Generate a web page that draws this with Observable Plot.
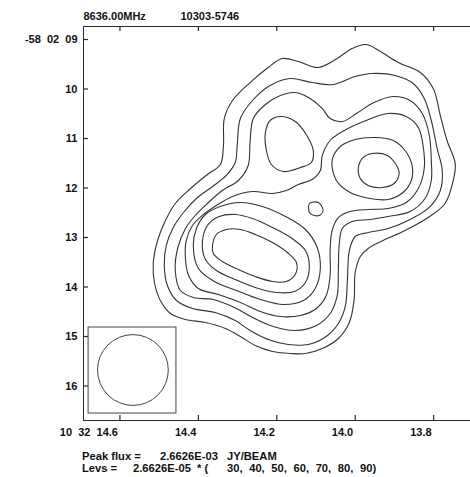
<!DOCTYPE html>
<html>
<head>
<meta charset="utf-8">
<script src="https://cdn.jsdelivr.net/npm/d3@7"></script>
<script src="https://cdn.jsdelivr.net/npm/@observablehq/plot@0.6"></script>
<style>
  body { margin: 0; background: #fff; }
  svg { display: block; }
  #caption {
    position: relative;
    width: 470px;
    height: 30px;
    font-family: 'Liberation Sans', Arial, sans-serif;
    font-size: 11.2px;
    font-weight: bold;
    color: #111;
  }
  #caption span { position: absolute; line-height: 12px; white-space: pre; }
  #caption span.levels { word-spacing: 3.5px; }
</style>
</head>
<body>
<div id="chart"></div>
<div id="caption"></div>
<script>
// Map header and footer text
const frequency = "8636.00MHz";
const sourceName = "10303-5746";
const peakFlux = "2.6626E-03";
const fluxUnit = "JY/BEAM";
const levelUnit = "2.6626E-05";
const levels = [30, 40, 50, 60, 70, 80, 90];

// Axes: right ascension (seconds of 10h32m) and declination (arcsec of -58°02')
const raTicks = [14.6, 14.4, 14.2, 14.0, 13.8];
const raTickLabels = ["10  32  14.6", "14.4", "14.2", "14.0", "13.8"];
const decTicks = [9, 10, 11, 12, 13, 14, 15, 16];
const decTickLabels = ["-58  02  09", "10", "11", "12", "13", "14", "15", "16"];
const raDomain = [14.693, 13.706];
const decDomain = [16.697, 8.737];

// Restoring beam (circular, FWHM in arcsec) and the box drawn round it
const beamCenter = [14.567, 15.677];
const beamDiameter = 1.43;
const beamBox = [14.680, 14.456, 14.818, 16.556]; // ra1, ra2, dec1, dec2

// Contour loops as [ra, dec] vertices, grouped by level (% of peak)
const loop30 = [[14.336,11.141],[14.334,10.596],[14.313,10.232],[14.268,9.869],[14.222,9.566],[14.186,9.384],[14.145,9.445],[14.094,9.566],[14.046,9.384],[14.008,9.182],[13.972,9.101],[13.936,9.242],[13.890,9.465],[13.834,9.667],[13.801,9.990],[13.783,10.535],[13.766,11.040],[13.745,11.505],[13.750,11.848],[13.771,12.313],[13.814,12.596],[13.873,12.859],[13.929,13.061],[13.967,13.222],[13.987,13.384],[14.000,13.707],[14.003,14.273],[14.015,14.717],[14.043,15.040],[14.084,15.242],[14.127,15.343],[14.166,15.343],[14.211,15.303],[14.255,15.182],[14.293,15.000],[14.331,14.838],[14.382,14.717],[14.433,14.657],[14.471,14.535],[14.497,14.273],[14.512,13.909],[14.515,13.505],[14.504,13.061],[14.484,12.657],[14.459,12.313],[14.420,12.010],[14.377,11.727],[14.344,11.525]];

const loop40 = [[14.301,11.141],[14.293,10.596],[14.262,10.232],[14.217,9.929],[14.166,9.788],[14.110,9.869],[14.056,9.909],[14.000,9.748],[13.957,9.687],[13.898,9.727],[13.852,9.889],[13.824,10.192],[13.806,10.636],[13.791,11.202],[13.778,11.646],[13.783,12.051],[13.809,12.374],[13.860,12.636],[13.916,12.818],[13.967,12.899],[14.000,12.980],[14.015,13.263],[14.020,13.869],[14.025,14.374],[14.043,14.737],[14.074,15.000],[14.120,15.162],[14.171,15.162],[14.222,15.061],[14.268,14.879],[14.306,14.677],[14.357,14.515],[14.415,14.434],[14.456,14.273],[14.479,13.970],[14.487,13.566],[14.482,13.162],[14.464,12.798],[14.438,12.495],[14.405,12.212],[14.364,11.970],[14.329,11.747],[14.306,11.485]];

const loop50 = [[14.268,11.040],[14.260,10.596],[14.229,10.313],[14.191,10.131],[14.153,10.071],[14.115,10.192],[14.084,10.394],[14.064,10.596],[14.033,10.657],[13.997,10.495],[13.952,10.273],[13.903,10.152],[13.860,10.232],[13.829,10.495],[13.811,10.939],[13.806,11.444],[13.806,11.848],[13.822,12.212],[13.860,12.475],[13.916,12.576],[13.962,12.636],[14.008,12.677],[14.033,12.818],[14.041,13.162],[14.043,13.667],[14.046,14.172],[14.064,14.535],[14.099,14.778],[14.153,14.879],[14.209,14.798],[14.262,14.616],[14.308,14.414],[14.362,14.253],[14.413,14.212],[14.446,14.071],[14.459,13.667],[14.453,13.222],[14.433,12.818],[14.408,12.556],[14.377,12.313],[14.339,12.051],[14.298,11.848],[14.273,11.545]];

const loop60North = [[14.229,10.879],[14.217,10.636],[14.189,10.556],[14.153,10.657],[14.125,10.919],[14.107,11.242],[14.112,11.485],[14.140,11.586],[14.183,11.667],[14.214,11.525],[14.227,11.222]];

const loop60Main = [[14.433,13.424],[14.431,13.061],[14.415,12.758],[14.387,12.535],[14.354,12.354],[14.313,12.172],[14.262,12.071],[14.211,12.111],[14.176,12.051],[14.145,11.929],[14.110,11.828],[14.089,11.646],[14.084,11.343],[14.064,11.040],[14.023,10.818],[13.972,10.636],[13.916,10.495],[13.870,10.556],[13.839,10.778],[13.826,11.202],[13.824,11.606],[13.839,12.010],[13.870,12.293],[13.916,12.414],[13.967,12.434],[14.013,12.475],[14.043,12.596],[14.059,12.859],[14.064,13.263],[14.064,13.768],[14.074,14.172],[14.099,14.434],[14.140,14.576],[14.191,14.596],[14.242,14.495],[14.293,14.313],[14.349,14.152],[14.400,14.030],[14.425,13.768]];

const loop70Main = [[14.413,13.162],[14.405,12.818],[14.382,12.535],[14.344,12.374],[14.293,12.293],[14.237,12.374],[14.178,12.576],[14.127,12.838],[14.097,13.202],[14.089,13.626],[14.102,14.030],[14.132,14.273],[14.183,14.354],[14.242,14.253],[14.303,14.071],[14.359,13.889],[14.400,13.626]];

const loop70Knot = [[14.117,12.313],[14.094,12.293],[14.082,12.455],[14.092,12.556],[14.115,12.515]];

const loop70East = [[14.059,11.444],[14.038,11.162],[14.000,11.020],[13.949,10.980],[13.903,11.040],[13.873,11.242],[13.855,11.545],[13.857,11.848],[13.878,12.091],[13.916,12.232],[13.962,12.212],[14.013,12.091],[14.048,11.848]];

const loop80Main = [[14.390,13.121],[14.377,12.758],[14.347,12.576],[14.306,12.535],[14.262,12.616],[14.211,12.798],[14.161,13.020],[14.127,13.263],[14.117,13.586],[14.127,13.909],[14.155,14.091],[14.201,14.111],[14.255,14.010],[14.306,13.848],[14.354,13.667],[14.382,13.444]];

const loop80East = [[13.992,11.586],[13.980,11.384],[13.957,11.303],[13.918,11.343],[13.896,11.525],[13.888,11.707],[13.901,11.909],[13.931,11.990],[13.967,11.950],[13.987,11.808]];

const loop90Main = [[14.364,13.162],[14.354,12.939],[14.329,12.838],[14.293,12.838],[14.255,12.939],[14.211,13.101],[14.173,13.303],[14.150,13.505],[14.153,13.747],[14.176,13.889],[14.211,13.889],[14.255,13.788],[14.298,13.646],[14.339,13.485],[14.362,13.323]];

const loops = [
  {level: 30, points: loop30},
  {level: 40, points: loop40},
  {level: 50, points: loop50},
  {level: 60, points: loop60North},
  {level: 60, points: loop60Main},
  {level: 70, points: loop70Main},
  {level: 70, points: loop70Knot},
  {level: 70, points: loop70East},
  {level: 80, points: loop80Main},
  {level: 80, points: loop80East},
  {level: 90, points: loop90Main}
];

const contourRows = loops.flatMap((loop, id) =>
  loop.points.map(([ra, dec]) => ({ra, dec, level: loop.level, loop: id}))
);

// plot geometry (the caption lines sit in the HTML below the SVG)
const width = 470, height = 447;
const margin = {top: 26, right: 0, bottom: 27, left: 83};
const innerWidth = width - margin.left - margin.right;
const innerHeight = height - margin.top - margin.bottom;
const tickLength = 5;

const raLeft = raDomain[0];
const decBottom = decDomain[0];
const decTop = decDomain[1];

const nb = (s) => s.replace(/ /g, "\u00a0");
const ink = "#2a2a2a";
const label = {fill: "#111", lineAnchor: "middle"};

function build(beamRadius) {
  return Plot.plot({
    width,
    height,
    marginTop: margin.top,
    marginRight: margin.right,
    marginBottom: margin.bottom,
    marginLeft: margin.left,
    x: {domain: raDomain, axis: null},
    y: {domain: decDomain, axis: null},
    style: {
      fontFamily: "'Liberation Sans', Arial, sans-serif",
      fontSize: "11px",
      fontWeight: "bold",
      color: "#111",
      background: "#fff"
    },
    marks: [
      // contours
      Plot.line(contourRows, {x: "ra", y: "dec", z: "loop", curve: "catmull-rom-closed", stroke: "#333", strokeWidth: 1.1}),
      // beam and its box
      Plot.rect([beamBox], {x1: (d) => d[0], x2: (d) => d[1], y1: (d) => d[2], y2: (d) => d[3], fill: "none", stroke: "#444", strokeWidth: 1}),
      Plot.dot([beamCenter], {x: (d) => d[0], y: (d) => d[1], r: beamRadius, fill: "none", stroke: "#444", strokeWidth: 1}),
      // frame edges
      Plot.ruleY(decDomain, {stroke: ink, strokeWidth: 1}),
      Plot.ruleX([raLeft], {stroke: ink, strokeWidth: 1}),
      // inward ticks on the bottom, top and left edges
      Plot.tickX(raTicks, {x: (d) => d, insetTop: innerHeight - tickLength, stroke: ink, strokeWidth: 1.2}),
      Plot.tickX(raTicks, {x: (d) => d, insetBottom: innerHeight - tickLength, stroke: ink, strokeWidth: 1.2}),
      Plot.tickY(decTicks, {y: (d) => d, insetRight: innerWidth - tickLength, stroke: ink, strokeWidth: 1.2}),
      // tick labels
      Plot.text(raTicks, {...label, x: (d) => d, y: () => decBottom, dy: 12, dx: -2, textAnchor: "end", text: (d, i) => nb(raTickLabels[i])}),
      Plot.text(decTicks, {...label, x: () => raLeft, y: (d) => d, dx: -6, textAnchor: "end", text: (d, i) => nb(decTickLabels[i])}),
      // header
      Plot.text([frequency], {...label, x: () => raLeft, y: () => decTop, dy: -10, textAnchor: "start", text: (d) => d}),
      Plot.text([sourceName], {...label, x: () => raLeft, y: () => decTop, dx: 97, dy: -10, textAnchor: "start", text: (d) => d})
    ]
  });
}

// size the beam circle from its diameter through the y scale
const probe = build(0);
const ys = probe.scale("y");
const beamRadius = Math.abs(ys.apply(beamCenter[1] + beamDiameter / 2) - ys.apply(beamCenter[1]));
document.getElementById("chart").append(build(beamRadius));

// caption: peak flux and contour levels, two lines under the map
const captionPieces = [
  {text: "Peak flux =", left: 82, top: 3},
  {text: peakFlux, left: 160, top: 3},
  {text: fluxUnit, left: 227, top: 3},
  {text: "Levs =", left: 82, top: 15},
  {text: levelUnit, left: 133, top: 15},
  {text: "* (", left: 197, top: 15},
  {text: levels.join(", ") + ")", left: 227, top: 15, cls: "levels"}
];
d3.select("#caption").selectAll("span")
  .data(captionPieces)
  .join("span")
  .attr("class", (d) => d.cls || null)
  .style("left", (d) => `${d.left}px`)
  .style("top", (d) => `${d.top}px`)
  .text((d) => d.text);
</script>
</body>
</html>
